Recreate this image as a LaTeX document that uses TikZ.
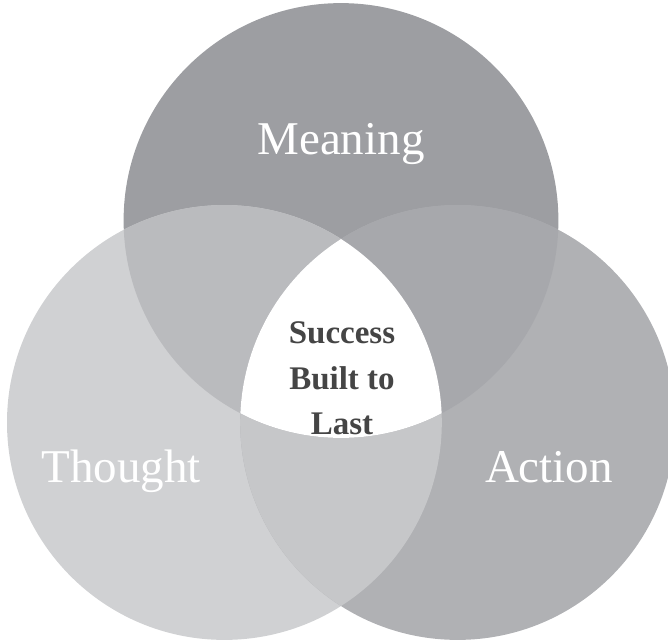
\documentclass[tikz,border=0pt]{standalone}
\usepackage{fontspec}
\setmainfont{Liberation Serif}
\definecolor{meaninggray}{HTML}{9D9EA2}
\definecolor{thoughtgray}{HTML}{D0D1D3}
\definecolor{actiongray}{HTML}{B0B1B4}
\definecolor{mtgray}{HTML}{BABBBE}
\definecolor{magray}{HTML}{A7A8AC}
\definecolor{tagray}{HTML}{C6C7C9}
\definecolor{centertext}{HTML}{454545}
\tikzset{
  bigword/.style={anchor=base,text=white,font=\fontsize{47}{50}\selectfont},
  coreword/.style={anchor=base,text=centertext,font=\bfseries\fontsize{33}{45.5}\selectfont,align=center}
}
\begin{document}
\begin{tikzpicture}[x=1pt,y=-1pt]
	\useasboundingbox (0,0) rectangle (668,640);
	\def\rad{217.4}
	
	\coordinate (M) at (341,220.5);
	\coordinate (T) at (224.4,422.5);
	\coordinate (A) at (457.6,422.5);
	
	\fill[meaninggray] (M) circle (\rad);
	\fill[thoughtgray] (T) circle (\rad);
	\fill[actiongray] (A) circle (\rad);
	
	\begin{scope}
		\clip (T) circle (\rad);
		\fill[tagray] (A) circle (\rad);
	\end{scope}
	\begin{scope}
		\clip (M) circle (\rad);
		\fill[mtgray] (T) circle (\rad);
		\fill[magray] (A) circle (\rad);
		\clip (T) circle (\rad);
		\fill[white] (A) circle (\rad);
	\end{scope}
	
	\node[bigword] (meaning) at (341,154) {Meaning};
	\node[bigword] (thought) at (121,482) {Thought};
	\node[bigword] (action) at (549,482) {Action};
	
	\node[coreword] (success) at (342,343) {Success};
	\node[coreword] (built) at (342,389) {Built to};
	\node[coreword] (last) at (342,434) {Last};
	
\end{tikzpicture}
\end{document}
